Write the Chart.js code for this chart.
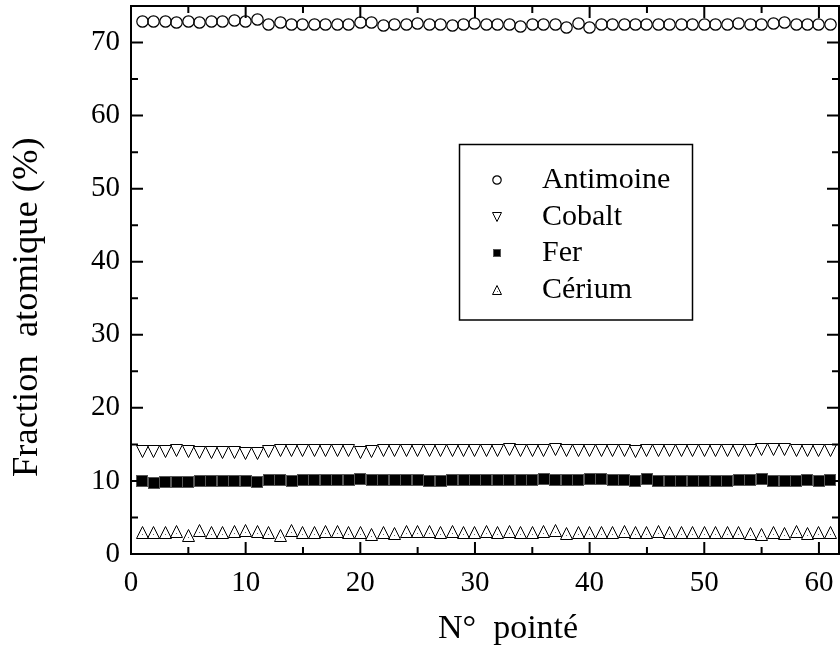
<!DOCTYPE html>
<html>
<head>
<meta charset="utf-8">
<script src="https://cdn.jsdelivr.net/npm/chart.js@4"></script>
<style>
  body { margin: 0; background: #fff; }
  canvas { display: block; }
</style>
</head>
<body>
<canvas id="chart" width="840" height="649"></canvas>
<script>
// N° pointé (x)
const pointNo = [1, 2, 3, 4, 5, 6, 7, 8, 9, 10, 11, 12, 13, 14, 15, 16, 17, 18, 19, 20,
  21, 22, 23, 24, 25, 26, 27, 28, 29, 30, 31, 32, 33, 34, 35, 36, 37, 38, 39, 40,
  41, 42, 43, 44, 45, 46, 47, 48, 49, 50, 51, 52, 53, 54, 55, 56, 57, 58, 59, 60, 61];

const antimoine = [72.9, 72.9, 72.9, 72.8, 72.9, 72.8, 72.9, 72.9, 73.0, 72.9, 73.1, 72.5, 72.8, 72.4, 72.5, 72.5, 72.4, 72.4, 72.5, 72.8,
  72.8, 72.3, 72.5, 72.4, 72.6, 72.5, 72.4, 72.3, 72.5, 72.6, 72.5, 72.5, 72.4, 72.2, 72.5, 72.5, 72.5, 72.1, 72.6, 72.1,
  72.5, 72.4, 72.4, 72.5, 72.5, 72.5, 72.5, 72.5, 72.5, 72.4, 72.5, 72.5, 72.6, 72.5, 72.5, 72.6, 72.7, 72.5, 72.5, 72.5, 72.5];

const cobalt = [14.0, 14.0, 14.0, 14.1, 14.0, 13.9, 13.9, 13.9, 13.85, 13.75, 13.7, 14.0, 14.1, 14.1, 14.1, 14.1, 14.1, 14.1, 14.2, 13.9,
  14.0, 14.2, 14.1, 14.1, 14.1, 14.1, 14.2, 14.1, 14.1, 14.1, 14.1, 14.1, 14.25, 14.1, 14.1, 14.1, 14.25, 14.2, 14.1, 14.1,
  14.1, 14.1, 14.1, 14.0, 14.1, 14.1, 14.1, 14.1, 14.1, 14.1, 14.15, 14.1, 14.1, 14.1, 14.3, 14.3, 14.3, 14.1, 14.1, 14.1, 14.1];

const fer = [9.94, 9.76, 9.85, 9.85, 9.9, 9.94, 9.94, 9.94, 9.94, 9.94, 9.9, 10.12, 10.12, 10.03, 10.12, 10.1, 10.1, 10.1, 10.1, 10.2,
  10.1, 10.1, 10.1, 10.1, 10.1, 9.94, 9.94, 10.1, 10.1, 10.1, 10.1, 10.1, 10.1, 10.1, 10.12, 10.2, 10.12, 10.1, 10.12, 10.26,
  10.3, 10.12, 10.12, 10.03, 10.26, 9.94, 10.03, 10.03, 10.03, 10.03, 10.0, 9.94, 10.12, 10.12, 10.2, 9.94, 9.94, 10.0, 10.12, 9.94, 10.12];

const cerium = [3.0, 3.0, 3.0, 3.1, 2.6, 3.2, 3.0, 3.0, 3.1, 3.2, 3.1, 3.0, 2.55, 3.28, 3.0, 3.0, 3.1, 3.1, 3.0, 3.0,
  2.7, 3.0, 2.85, 3.1, 3.1, 3.1, 3.0, 3.1, 3.0, 3.0, 3.1, 3.0, 3.1, 3.0, 3.0, 3.1, 3.2, 2.8, 3.0, 3.0,
  2.95, 3.0, 3.1, 3.0, 2.9, 3.1, 3.0, 3.0, 3.0, 3.0, 3.0, 3.0, 3.0, 2.85, 2.65, 3.0, 2.75, 3.1, 2.85, 3.0, 3.0];

const xTicks = [0, 10, 20, 30, 40, 50, 60];
const xMinor = [5, 15, 25, 35, 45, 55];
const yTicks = [0, 10, 20, 30, 40, 50, 60, 70];
const yMinor = [5, 15, 25, 35, 45, 55, 65];

const serif = 'Liberation Serif';

// little symbol images, centred on their box like the original plot
function marker(shape, s) {
  const c = document.createElement('canvas');
  c.width = s;
  c.height = s;
  const g = c.getContext('2d');
  g.lineWidth = 1;
  g.strokeStyle = '#000';
  g.fillStyle = '#000';
  const m = s / 2;
  g.beginPath();
  if (shape === 'circle') {
    g.arc(m, m, m - 0.8, 0, Math.PI * 2);
    g.lineWidth = 1.2;
    g.stroke();
  } else if (shape === 'square') {
    g.fillRect(0, 0, s, s);
    g.strokeStyle = '#555';
    g.strokeRect(0.5, 0.5, s - 1, s - 1);
  } else if (shape === 'down') {
    g.moveTo(0.5, 0.5); g.lineTo(s - 0.5, 0.5); g.lineTo(m, s - 0.5); g.closePath();
    g.stroke();
  } else if (shape === 'up') {
    g.moveTo(m, 0.5); g.lineTo(s - 0.5, s - 0.5); g.lineTo(0.5, s - 0.5); g.closePath();
    g.stroke();
    g.fillStyle = '#666';
    g.fillRect(Math.floor(m), Math.floor(m + s * 0.15), 1, 1);
  }
  return c;
}

const bigMarks = [marker('circle', 13), marker('down', 13), marker('square', 12), marker('up', 13)];
const smallMarks = [marker('circle', 10), marker('down', 10), marker('square', 8), marker('up', 10)];

function pts(vals) {
  return pointNo.map((n, i) => ({ x: n, y: vals[i] }));
}

const crisp = {
  id: 'crisp',
  beforeDatasetsDraw(chart) { chart.ctx.imageSmoothingEnabled = false; },
  afterDatasetsDraw(chart) { chart.ctx.imageSmoothingEnabled = true; }
};

// axis frame with inward ticks on all four sides
const frame = {
  id: 'frame',
  afterDraw(chart) {
    const { ctx, chartArea: a, scales: { x, y } } = chart;
    ctx.save();
    ctx.strokeStyle = '#000';
    ctx.lineWidth = 2;
    ctx.strokeRect(a.left, a.top, a.right - a.left, a.bottom - a.top);
    ctx.beginPath();
    const xt = (v, len) => {
      const p = x.getPixelForValue(v);
      ctx.moveTo(p, a.bottom); ctx.lineTo(p, a.bottom - len);
      ctx.moveTo(p, a.top); ctx.lineTo(p, a.top + len);
    };
    const yt = (v, len) => {
      const p = y.getPixelForValue(v);
      ctx.moveTo(a.left, p); ctx.lineTo(a.left + len, p);
      ctx.moveTo(a.right, p); ctx.lineTo(a.right - len, p);
    };
    xTicks.forEach(v => xt(v, 12));
    xMinor.forEach(v => xt(v, 7));
    yTicks.forEach(v => yt(v, 12));
    yMinor.forEach(v => yt(v, 7));
    ctx.stroke();

    // axis titles
    ctx.fillStyle = '#000';
    ctx.font = '34px "' + serif + '"';
    ctx.textAlign = 'left';
    ctx.textBaseline = 'alphabetic';
    ctx.fillText('N°  pointé', 438, 638);
    ctx.save();
    ctx.translate(37, 477);
    ctx.rotate(-Math.PI / 2);
    ctx.font = '36.5px "' + serif + '"';
    ctx.fillText('Fraction  atomique (%)', 0, 0);
    ctx.restore();

    // legend box
    ctx.lineWidth = 1.5;
    ctx.strokeRect(459.5, 144.5, 233, 175.5);
    ctx.font = '30px "' + serif + '"';
    ctx.textBaseline = 'middle';
    const rows = [180, 216.7, 253.3, 290];
    chart.data.datasets.forEach((ds, i) => {
      const m = smallMarks[i];
      ctx.drawImage(m, Math.round(497 - m.width / 2), Math.round(rows[i] - m.height / 2));
      ctx.fillText(ds.label, 542, rows[i]);
    });
    ctx.restore();
  }
};

new Chart(document.getElementById('chart'), {
  type: 'scatter',
  data: {
    datasets: [
      { label: 'Antimoine', data: pts(antimoine), pointStyle: bigMarks[0] },
      { label: 'Cobalt', data: pts(cobalt), pointStyle: bigMarks[1] },
      { label: 'Fer', data: pts(fer), pointStyle: bigMarks[2] },
      { label: 'Cérium', data: pts(cerium), pointStyle: bigMarks[3] }
    ]
  },
  options: {
    responsive: false,
    devicePixelRatio: 1,
    animation: false,
    events: [],
    layout: { autoPadding: false, padding: { top: 6, right: 1, left: 0, bottom: 0 } },
    elements: { point: { radius: 6 } },
    plugins: { legend: { display: false }, tooltip: { enabled: false } },
    scales: {
      x: {
        type: 'linear',
        min: 0,
        max: 61.75,
        grid: { display: false, drawTicks: false },
        border: { display: false },
        ticks: { color: '#000', padding: 12, font: { family: serif, size: 29 } },
        afterBuildTicks: s => { s.ticks = xTicks.map(v => ({ value: v })); },
        afterFit: s => { s.height = 95; s.paddingLeft = 0; s.paddingRight = 0; }
      },
      y: {
        min: 0,
        max: 75,
        grid: { display: false, drawTicks: false },
        border: { display: false },
        ticks: { color: '#000', padding: 11, font: { family: serif, size: 29 } },
        afterBuildTicks: s => { s.ticks = yTicks.map(v => ({ value: v })); },
        afterFit: s => { s.width = 131; s.paddingTop = 0; s.paddingBottom = 0; }
      }
    }
  },
  plugins: [crisp, frame]
});
</script>
</body>
</html>
